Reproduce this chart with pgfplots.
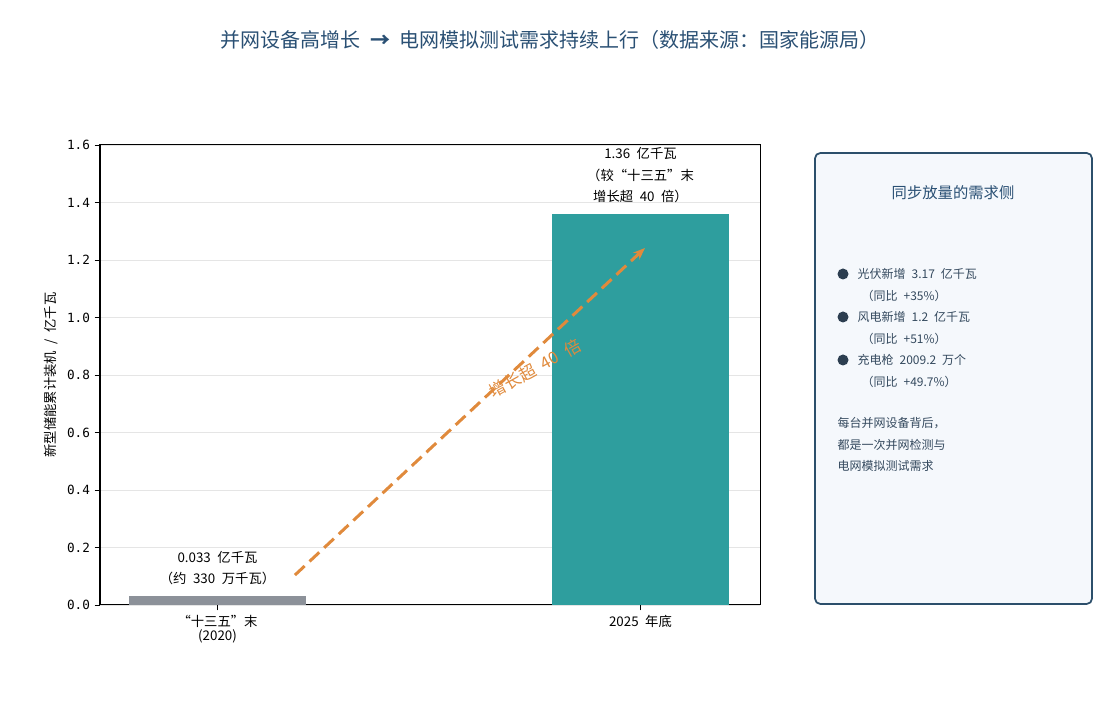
\documentclass[border=0pt]{standalone}
\usepackage{fontspec}
\setmainfont[WordSpace=2.2]{Noto Sans CJK SC}
\newfontfamily\mono{DejaVu Sans Mono}
\usepackage{pgfplots}
\pgfplotsset{compat=1.18}
\usetikzlibrary{arrows.meta}
\definecolor{titleblue}{HTML}{2A5074}
\definecolor{bargray}{HTML}{8C9199}
\definecolor{barteal}{HTML}{2E9E9E}
\definecolor{arroworange}{HTML}{E08A3C}
\definecolor{panelborder}{HTML}{2C4F6B}
\definecolor{panelfill}{HTML}{F5F8FC}
\definecolor{paneltext}{HTML}{34495E}
\definecolor{bulletc}{HTML}{2C3E50}
\begin{document}
\begin{tikzpicture}[x=0.75pt,y=0.75pt]
\path[use as bounding box] (0,0) rectangle (1100,720);
% title
\node[text=titleblue,font=\fontsize{15}{17}\selectfont] at (550,680) {并网设备高增长 \textbf{→} 电网模拟测试需求持续上行（数据来源：国家能源局）};
\begin{axis}[
  at={(75pt,86.25pt)}, anchor=south west,
  scale only axis, width=495pt, height=345pt,
  xmin=-0.2778, xmax=1.2825, ymin=0, ymax=1.6,
  xtick={0,1},
  xticklabels={{“十三五”末\\(2020)},{2025 年底}},
  xticklabel style={align=center,font=\fontsize{10}{10.5}\selectfont},
  ytick={0,0.2,...,1.6},
  yticklabel style={font=\mono\fontsize{9.5}{12}\selectfont,
    /pgf/number format/.cd,fixed,fixed zerofill,precision=1,assume math mode=true},
  ylabel={新型储能累计装机 / 亿千瓦},
  ylabel style={font=\fontsize{10}{12}\selectfont},
  ymajorgrids, grid style={black!10,line width=0.6pt},
  tick align=outside, xtick pos=bottom, ytick pos=left,
  major tick length=4pt, tick style={black,line width=0.6pt},
  axis line style={line width=0.75pt},
  clip=false,
]
\addplot[ybar, bar width=0.42, fill=bargray, draw=none] coordinates {(0,0.033)};
\addplot[ybar, bar width=0.42, fill=barteal, draw=none] coordinates {(1,1.36)};
\node[font=\fontsize{10}{12}\selectfont,align=center] at (axis cs:0,0.129) {0.033 亿千瓦\\[4pt]（约 330 万千瓦）};
\node[font=\fontsize{10}{12}\selectfont,align=center] at (axis cs:1,1.495) {1.36 亿千瓦\\[4pt]（较“十三五”末\\[4pt]增长超 40 倍）};
\draw[arroworange, line width=2.25pt, dash pattern=on 10pt off 5pt,
  -{Stealth[length=9pt,width=7pt]}] (axis cs:0.183,0.104) -- (axis cs:1.0106,1.2417);
\node[text=arroworange, rotate=29, font=\fontsize{12.5}{14}\selectfont] at (axis cs:0.751,0.824) {增长超 40 倍};
\end{axis}
% side panel
\draw[panelborder, line width=1.3pt, fill=panelfill, rounded corners=4pt] (815,116) rectangle (1092,567);
\node[text=titleblue,font=\fontsize{11.5}{13}\selectfont] at (953,527) {同步放量的需求侧};
\begin{scope}[font=\fontsize{9}{10}\selectfont, text=paneltext]
\foreach \yy/\txt/\sub in {446/光伏新增 3.17 亿千瓦/（同比 +35\%）,403/风电新增 1.2 亿千瓦/（同比 +51\%）,360/充电枪 2009.2 万个/（同比 +49.7\%）}{
  \fill[bulletc] (843,\yy) circle (5.5);
  \node[anchor=west] at (853,\yy) {\txt};
  \node[anchor=west] at (857,\yy-22) {\sub};
}
\node[anchor=west] at (833,297) {每台并网设备背后，};
\node[anchor=west] at (833,275) {都是一次并网检测与};
\node[anchor=west] at (833,254) {电网模拟测试需求};
\end{scope}
\end{tikzpicture}
\end{document}
